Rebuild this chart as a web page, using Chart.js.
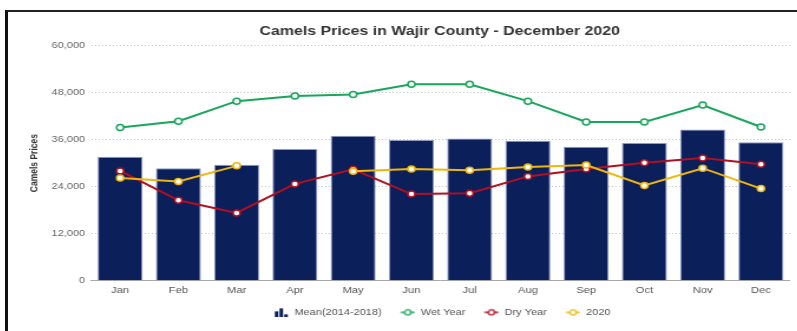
<!DOCTYPE html>
<html>
<head>
<meta charset="utf-8">
<script src="https://cdn.jsdelivr.net/npm/chart.js@4/dist/chart.umd.min.js"></script>
<style>
  html, body { margin: 0; padding: 0; background: #fff; overflow: hidden; width: 797px; height: 331px; }
  #frame { position: absolute; left: 5px; top: 10px; width: 820px; height: 340px;
           border-left: 3px solid #111; border-top: 2px solid #222; }
  #wrap { position: absolute; left: 9px; top: 13px; transform: scaleX(1.18); transform-origin: 0 0; }
</style>
</head>
<body>
<div id="frame"></div>
<div id="wrap"><canvas id="c" width="730" height="314"></canvas></div>
<script>
// Monthly camel prices, Wajir County
const months = ['Jan', 'Feb', 'Mar', 'Apr', 'May', 'Jun', 'Jul', 'Aug', 'Sep', 'Oct', 'Nov', 'Dec'];
const meanPrices = [31600, 28700, 29600, 33600, 37000, 35900, 36300, 35700, 34200, 35100, 38600, 35300];
const wetYear    = [39100, 40700, 45800, 47100, 47500, 50100, 50100, 45800, 40500, 40500, 44800, 39200];
const dryYear    = [28000, 20500, 17300, 24700, 28400, 22100, 22300, 26600, 28500, 30100, 31300, 29700];
const year2020   = [26200, 25300, 29300, null, 27900, 28500, 28200, 29000, 29500, 24300, 28700, 23500];
const seriesNames = ['Mean(2014-2018)', 'Wet Year', 'Dry Year', '2020'];
const yTicks = { min: 0, max: 60000, step: 12000 };

const NAVY = '#0b1f5b', GREEN = '#18a65a', RED = '#b01021', YELLOW = '#f0b60c';

// small legend glyphs, padded on the left so the icons sit close to their text
const ICON_W = 17;
function barIcon(color) {
  const c = document.createElement('canvas');
  c.width = ICON_W; c.height = 10;
  const g = c.getContext('2d');
  const x0 = ICON_W - 13;
  g.fillStyle = color;
  g.fillRect(x0 + 1, 4, 3, 6);
  g.fillRect(x0 + 5, 1, 3, 9);
  g.fillRect(x0 + 9, 7, 3, 3);
  return c;
}
function lineIcon(color) {
  const c = document.createElement('canvas');
  c.width = ICON_W; c.height = 8;
  const g = c.getContext('2d');
  const x0 = ICON_W - 12.5;
  g.strokeStyle = color; g.lineWidth = 1.5;
  g.beginPath(); g.moveTo(x0, 4); g.lineTo(x0 + 12, 4); g.stroke();
  g.beginPath(); g.arc(x0 + 6, 4, 2.6, 0, Math.PI * 2);
  g.fillStyle = '#fff'; g.fill(); g.lineWidth = 1.3; g.stroke();
  return c;
}
const legendIcons = [barIcon(NAVY), lineIcon(GREEN), lineIcon(RED), lineIcon(YELLOW)];

const FONT = "'Liberation Sans', Arial, Helvetica, sans-serif";

function lineSet(label, data, color, order) {
  return {
    type: 'line', label, data, order,
    borderColor: color, borderWidth: 2, tension: 0, spanGaps: false,
    pointRadius: 3, pointBorderWidth: 1.5, pointBackgroundColor: '#fff', pointBorderColor: color,
    yAxisID: 'y'
  };
}

new Chart(document.getElementById('c'), {
  data: {
    labels: months,
    datasets: [
      {
        type: 'bar', label: seriesNames[0], data: meanPrices, order: 4,
        backgroundColor: NAVY, borderColor: '#8d9bc3', borderWidth: 1,
        categoryPercentage: 0.78, barPercentage: 0.99, yAxisID: 'y'
      },
      lineSet(seriesNames[1], wetYear, GREEN, 3),
      lineSet(seriesNames[2], dryYear, RED, 2),
      lineSet(seriesNames[3], year2020, YELLOW, 1)
    ]
  },
  options: {
    responsive: false,
    animation: false,
    devicePixelRatio: 1,
    layout: { padding: 0 },
    plugins: {
      title: {
        display: true,
        text: 'Camels Prices in Wajir County - December 2020',
        color: '#333',
        font: { family: FONT, size: 13.5, weight: 'bold' },
        padding: { top: 10, bottom: 6.3 }
      },
      legend: {
        position: 'bottom',
        labels: {
          usePointStyle: true,
          pointStyleWidth: ICON_W,
          padding: 11.6,
          color: '#555',
          font: { family: FONT, size: 9.3 },
          sort: (a, b) => a.datasetIndex - b.datasetIndex,
          generateLabels(chart) {
            const items = Chart.defaults.plugins.legend.labels.generateLabels(chart);
            items.forEach(it => { it.pointStyle = legendIcons[it.datasetIndex]; });
            return items;
          }
        }
      },
      tooltip: { enabled: false }
    },
    scales: {
      x: {
        grid: { display: false, drawTicks: false },
        border: { display: true, color: '#a8a8a8', width: 1 },
        ticks: { color: '#555', font: { family: FONT, size: 9.5 }, padding: 4 },
        afterFit(s) { s.height = 15.4; }
      },
      y: {
        position: 'left',
        min: yTicks.min, max: yTicks.max,
        grid: { color: '#c4c4c4', lineWidth: 1, drawTicks: false },
        border: { display: false, dash: [1, 2] },
        ticks: {
          stepSize: yTicks.step, color: '#666', padding: 5,
          font: { family: FONT, size: 9.3 },
          callback: v => v.toLocaleString('en-US')
        },
        title: {
          display: true, text: 'Camels Prices', color: '#333',
          font: { family: FONT, size: 8.5, weight: 'bold' },
          padding: { top: 16.1, bottom: 0 }
        },
        afterFit(s) { s.width = 69.5; }
      },
      y2: {
        position: 'right',
        grid: { display: false, drawTicks: false },
        border: { display: false },
        ticks: { display: false },
        afterFit(s) { s.width = 68.1; }
      }
    }
  }
});
</script>
</body>
</html>
